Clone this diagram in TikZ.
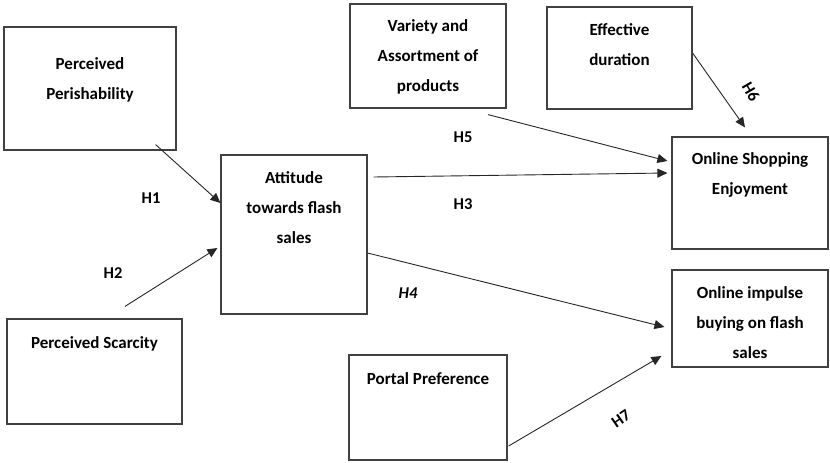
\documentclass[tikz,border=0pt]{standalone}
\usepackage{fontspec}
\setmainfont{Carlito}
\usetikzlibrary{arrows.meta, positioning}
\definecolor{rimgreen}{HTML}{70AD47}
\definecolor{boxline}{HTML}{404040}
\begin{document}
\begin{tikzpicture}[x=1pt, y=-1pt,
		box/.style={draw=boxline, line width=1.2pt, preaction={draw=rimgreen, line width=2.4pt}, inner sep=0pt},
		boxtext/.style={anchor=north, align=center, inner sep=0pt, font=\fontsize{17}{30}\selectfont\bfseries},
		hyp/.style={inner sep=1pt, font=\fontsize{16.5}{18}\selectfont\bfseries},
		link/.style={draw=black!85, line width=0.9pt, -{Triangle[length=10pt,width=9pt]}}]
		\useasboundingbox (0,0) rectangle (830,463);
		\node[box, minimum width=172pt, minimum height=123pt] (perish) at (90,88.5) {};
		\node[box, minimum width=156pt, minimum height=104pt] (variety) at (428,56) {};
		\node[box, minimum width=145pt, minimum height=102pt] (duration) at (619.5,58) {};
		\node[box, minimum width=156pt, minimum height=112pt] (enjoy) at (750,193) {};
		\node[box, minimum width=175pt, minimum height=105pt] (scarce) at (94.5,371.5) {};
		\node[box, minimum width=146pt, minimum height=159pt] (attitude) at (294,234.5) {};
		\node[box, minimum width=158pt, minimum height=105pt] (portal) at (428,407.5) {};
		\node[box, minimum width=156pt, minimum height=97pt] (impulse) at (750,318.5) {};
		\node[boxtext] (perishtxt) at ([yshift=-31pt]perish.north) {Perceived\\Perishability};
		\node[boxtext] (varietytxt) at ([yshift=-16pt]variety.north) {Variety and\\Assortment of\\products};
		\node[boxtext] (durationtxt) at ([yshift=-17pt]duration.north) {Effective\\duration};
		\node[boxtext] (enjoytxt) at ([yshift=-16pt]enjoy.north) {Online Shopping\\Enjoyment};
		\node[boxtext] (scarcetxt) at ([yshift=-18pt]scarce.north) {Perceived Scarcity};
		\node[boxtext] (attitudetxt) at ([yshift=-17pt]attitude.north) {Attitude\\towards flash\\sales};
		\node[boxtext] (portaltxt) at ([yshift=-18pt]portal.north) {Portal Preference};
		\node[boxtext] (impulsetxt) at ([yshift=-17pt]impulse.north) {Online impulse\\buying on flash\\sales};
		\draw[link] ([xshift=-21pt,yshift=6pt]perish.south east) -- ([yshift=31.5pt]attitude.west);
		\draw[link] ([xshift=30.5pt,yshift=12pt]scarce.north) -- ([xshift=-3pt,yshift=-13.5pt]attitude.west);
		\draw[link] ([xshift=6pt,yshift=57.5pt]attitude.east) -- ([xshift=-4pt,yshift=20pt]enjoy.west);
		\draw[link] ([yshift=-18.5pt]attitude.east) -- ([xshift=-7pt,yshift=-8.5pt]impulse.west);
		\draw[link] ([xshift=60pt,yshift=-6pt]variety.south) -- ([xshift=-4pt,yshift=32pt]enjoy.west);
		\draw[link] ([yshift=5pt]duration.east) -- ([xshift=-5pt,yshift=9pt]enjoy.north);
		\draw[link] ([xshift=1pt,yshift=-38.5pt]portal.east) -- ([xshift=-10pt,yshift=-37.5pt]impulse.west);
		\node[hyp] (h1) at (151,198) {H1};
		\node[hyp] (h2) at (113,273) {H2};
		\node[hyp] (h3) at (463,204) {H3};
		\node[hyp, font=\fontsize{16.5}{18}\selectfont\bfseries\itshape] (h4) at (408,293) {H4};
		\node[hyp] (h5) at (463,137) {H5};
		\node[hyp, rotate=-60] (h6) at (751,92) {H6};
		\node[hyp, rotate=35] (h7) at (621,419) {H7};
	\end{tikzpicture}
\end{document}
